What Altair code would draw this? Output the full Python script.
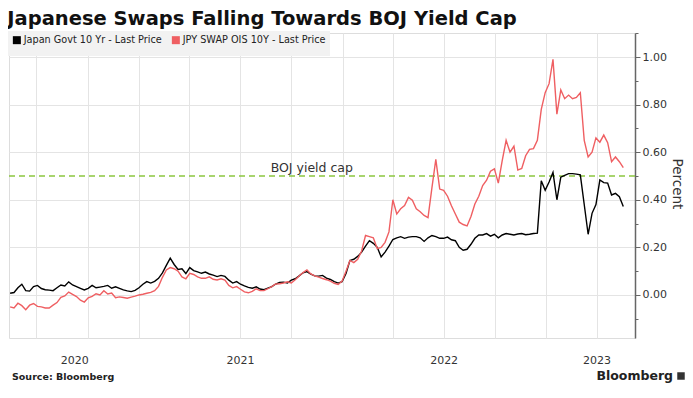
import altair as alt
import pandas as pd

# ---- data (weekly readings, Fridays from 2020-05-15 to 2023-05-19) ----
dates = pd.date_range("2020-05-15", periods=158, freq="7D")

jgb_10y = [
    0.007, 0.010, 0.030, 0.045, 0.018, 0.016, 0.035, 0.040, 0.027, 0.022,
    0.020, 0.018, 0.030, 0.042, 0.038, 0.055, 0.042, 0.035, 0.028, 0.021,
    0.028, 0.040, 0.030, 0.033, 0.036, 0.040, 0.028, 0.034, 0.028, 0.021,
    0.017, 0.014, 0.019, 0.030, 0.045, 0.056, 0.050, 0.057, 0.070, 0.093,
    0.124, 0.155, 0.128, 0.107, 0.110, 0.090, 0.115, 0.102, 0.097, 0.091,
    0.096, 0.088, 0.083, 0.077, 0.082, 0.078, 0.062, 0.050, 0.056, 0.045,
    0.038, 0.032, 0.028, 0.034, 0.025, 0.022, 0.029, 0.035, 0.046, 0.053,
    0.054, 0.050, 0.062, 0.068, 0.080, 0.093, 0.098, 0.087, 0.080, 0.079,
    0.082, 0.071, 0.065, 0.056, 0.050, 0.056, 0.090, 0.145, 0.150, 0.162,
    0.180, 0.205, 0.228, 0.217, 0.200, 0.160, 0.180, 0.205, 0.233, 0.240,
    0.245, 0.238, 0.243, 0.245, 0.245, 0.240, 0.225, 0.240, 0.250, 0.245,
    0.238, 0.238, 0.243, 0.232, 0.228, 0.200, 0.188, 0.192, 0.213, 0.238,
    0.252, 0.252, 0.258, 0.247, 0.255, 0.240, 0.252, 0.258, 0.255, 0.252,
    0.256, 0.258, 0.253, 0.255, 0.258, 0.260, 0.480, 0.440, 0.475, 0.515,
    0.400, 0.495, 0.503, 0.510, 0.510, 0.508, 0.505, 0.380, 0.255, 0.343,
    0.380, 0.483, 0.472, 0.470, 0.420, 0.427, 0.413, 0.372,
]

ois_10y = [
    -0.050, -0.055, -0.035, -0.045, -0.062, -0.043, -0.036, -0.048, -0.050, -0.055,
    -0.055, -0.043, -0.032, -0.010, -0.004, 0.012, 0.002, -0.007, -0.022, -0.030,
    -0.012, -0.006, 0.005, 0.000, 0.018, 0.004, 0.008, -0.012, -0.008, -0.011,
    -0.014, -0.009, -0.005, 0.000, 0.003, 0.007, 0.011, 0.018, 0.036, 0.074,
    0.105, 0.115, 0.110, 0.100, 0.076, 0.068, 0.091, 0.086, 0.076, 0.070,
    0.070, 0.076, 0.066, 0.063, 0.068, 0.062, 0.040, 0.030, 0.035, 0.024,
    0.013, 0.009, 0.015, 0.026, 0.018, 0.018, 0.026, 0.035, 0.046, 0.047,
    0.050, 0.055, 0.050, 0.064, 0.080, 0.094, 0.105, 0.088, 0.080, 0.075,
    0.069, 0.064, 0.058, 0.049, 0.044, 0.058, 0.100, 0.145, 0.136, 0.150,
    0.185, 0.250, 0.245, 0.240, 0.195, 0.200, 0.221, 0.265, 0.400, 0.340,
    0.362, 0.376, 0.410, 0.398, 0.362, 0.350, 0.334, 0.325, 0.450, 0.570,
    0.445, 0.440, 0.415, 0.375, 0.340, 0.306, 0.296, 0.290, 0.330, 0.382,
    0.415, 0.460, 0.482, 0.520, 0.530, 0.470, 0.565, 0.650, 0.600, 0.625,
    0.525, 0.532, 0.585, 0.612, 0.615, 0.650, 0.780, 0.850, 0.888, 0.990,
    0.760, 0.862, 0.825, 0.840, 0.825, 0.830, 0.850, 0.650, 0.580, 0.600,
    0.660, 0.642, 0.672, 0.640, 0.560, 0.580, 0.560, 0.535,
]

series_names = ["Japan Govt 10 Yr - Last Price", "JPY SWAP OIS 10Y - Last Price"]
series_colors = ["#000000", "#ef5f62"]

cap_value = [0.50]
cap_label = ["BOJ yield cap"]
cap_label_date = ["2021-08-25"]

y_tick_values = [-0.1, 0.0, 0.1, 0.2, 0.3, 0.4, 0.5, 0.6, 0.7, 0.8, 0.9, 1.0, 1.1]
x_tick_values = [
    (2020, 7, 1), (2020, 9, 7), (2020, 10, 1),
    (2021, 1, 1), (2021, 4, 1), (2021, 7, 1), (2021, 10, 1),
    (2022, 1, 1), (2022, 4, 1), (2022, 7, 1), (2022, 10, 1),
    (2023, 1, 1), (2023, 4, 1),
]
year_label_months = ["2020-09", "2021-07", "2022-07", "2023-04"]

title_text = "Japanese Swaps Falling Towards BOJ Yield Cap"
source_text = ["Source: Bloomberg"]
brand_text = ["Bloomberg"]

# ---- tables ----
lines_df = pd.DataFrame({
    "date": list(dates) * 2,
    "value": jgb_10y + ois_10y,
    "series": [series_names[0]] * len(jgb_10y) + [series_names[1]] * len(ois_10y),
})
cap_df = pd.DataFrame({"value": cap_value, "label": cap_label,
                       "date": pd.to_datetime(cap_label_date)})

FONT = "DejaVu Sans"
W, H = 626, 305

x_enc = alt.X(
    "date:T",
    scale=alt.Scale(domain=[alt.DateTime(year=2020, month=5, date=13),
                            alt.DateTime(year=2023, month=6, date=9)]),
    axis=alt.Axis(
        values=[alt.DateTime(year=y, month=m, date=d) for (y, m, d) in x_tick_values],
        labelExpr="indexof(" + str(year_label_months) + ", timeFormat(datum.value, '%Y-%m')) >= 0 ? timeFormat(datum.value, '%Y') : ''",
        gridOpacity={"condition": {"test": "timeFormat(datum.value, '%m-%d') == '09-07'", "value": 0}, "value": 1},
        grid=True, gridColor="#e4e4e4", gridWidth=1,
        ticks=False, domain=False, title=None,
        labelFont=FONT, labelFontSize=11, labelColor="#333333",
        labelPadding=16, labelOverlap=False, labelFlush=False,
    ),
)

minor_test = "round(datum.value * 10) % 2 != 0"
y_enc = alt.Y(
    "value:Q",
    scale=alt.Scale(domain=[-0.181, 1.101], nice=False, zero=False),
    axis=alt.Axis(
        orient="right", values=y_tick_values, title="Percent",
        labelExpr="(round(datum.value * 10) % 2 == 0 && datum.value > -0.05 && datum.value < 1.05) ? format(datum.value, '.2f') : ''",
        tickSize={"condition": {"test": minor_test, "value": 3}, "value": 5},
        gridOpacity={"condition": {"test": minor_test + " || datum.value > 1.05", "value": 0}, "value": 1},
        grid=True, gridColor="#e4e4e4", gridWidth=1,
        domainColor="#666666", domainWidth=1.5, tickColor="#666666", tickWidth=1,
        labelFont=FONT, labelFontSize=11, labelColor="#333333", labelPadding=2,
        labelOverlap=False, labelFlush=False,
        titleFont=FONT, titleFontSize=13.5, titleFontWeight="normal", titleColor="#333333",
        titleAngle=90, titleAlign="center", titleBaseline="middle",
        titleX=41, titleY=H / 2 - 2,
    ),
)

lines = alt.Chart(lines_df).mark_line(strokeWidth=1.4, interpolate="linear").encode(
    x=x_enc,
    y=y_enc,
    color=alt.Color(
        "series:N",
        scale=alt.Scale(domain=series_names, range=series_colors),
        legend=alt.Legend(
            orient="none", legendX=-1, legendY=-2, direction="horizontal", title=None,
            fillColor="#f2f2f2", padding=4, symbolType="square", symbolSize=9,
            symbolStrokeWidth=5, labelFont=FONT, labelFontSize=9.7, labelColor="#222222",
            labelLimit=300, columnPadding=2, labelOffset=2,
        ),
    ),
)

cap_rule = alt.Chart(cap_df).mark_rule(
    color="#8cc63f", strokeWidth=1.6, strokeDash=[6, 4]
).encode(y=y_enc)

cap_text = alt.Chart(cap_df).mark_text(
    align="left", baseline="bottom", dy=-1, font=FONT, fontSize=12.5, color="#333333"
).encode(x=x_enc, y=y_enc, text="label:N")

source = alt.Chart(pd.DataFrame({"t": source_text})).mark_text(
    align="left", baseline="middle", font=FONT, fontSize=9.5, fontWeight="bold", color="#222222"
).encode(text="t:N", x=alt.value(3), y=alt.value(344))

brand = alt.Chart(pd.DataFrame({"t": brand_text})).mark_text(
    align="right", baseline="middle", font=FONT, fontSize=12.5, fontWeight="bold", color="#222222"
).encode(text="t:N", x=alt.value(664), y=alt.value(343))

brand_icon = alt.Chart(pd.DataFrame({"t": brand_text})).mark_square(
    size=56, color="#333333", opacity=1
).encode(x=alt.value(672), y=alt.value(343))

chart = alt.layer(cap_rule, lines, cap_text, source, brand, brand_icon).properties(
    width=W,
    height=H,
    autosize=alt.AutoSizeParams(type="none"),
    padding={"left": 1, "top": 25, "right": 50, "bottom": 52},
    title=alt.TitleParams(
        title_text, anchor="start", font=FONT, fontSize=19.5, fontWeight="bold",
        color="#111111", offset=6, dy=8,
    ),
).configure_view(stroke=None).configure(background="white")

chart.save("out.html", embed_options={"renderer": "svg", "actions": False})
